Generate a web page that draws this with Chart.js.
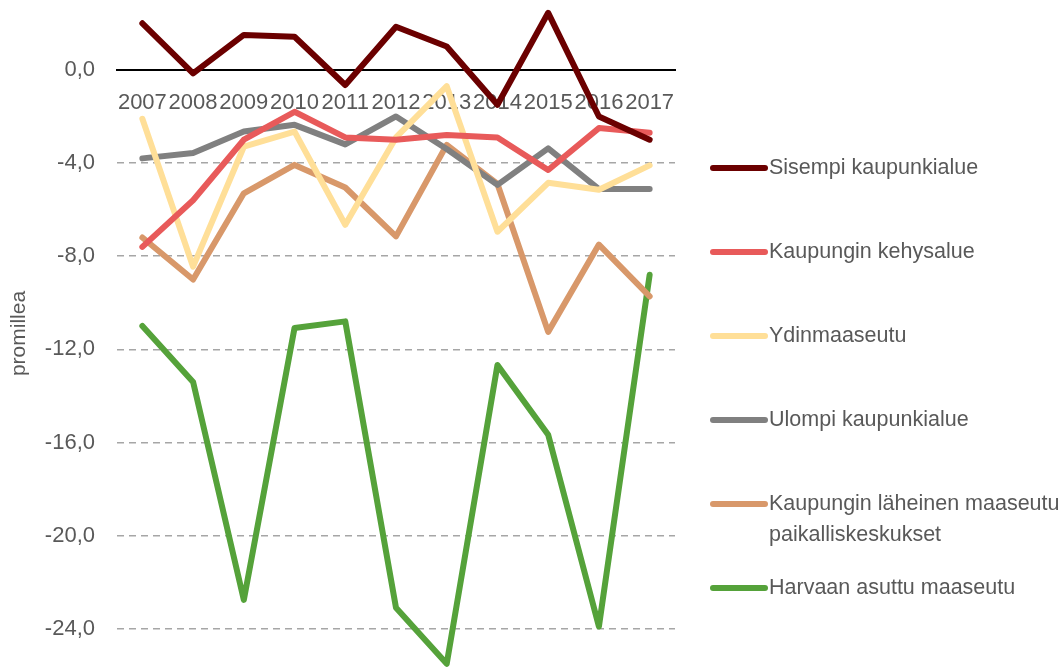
<!DOCTYPE html>
<html>
<head>
<meta charset="utf-8">
<script src="https://cdn.jsdelivr.net/npm/chart.js@4"></script>
<style>
  html, body { margin: 0; padding: 0; background: #fff; }
  #wrap { width: 1059px; height: 667px; overflow: hidden; }
</style>
</head>
<body>
<div id="wrap"><canvas id="lineChart" width="1059" height="667"></canvas></div>
<script>
// data (promillea)
var years = ['2007', '2008', '2009', '2010', '2011', '2012', '2013', '2014', '2015', '2016', '2017'];
var sisempi = [2.0, -0.15, 1.5, 1.42, -0.65, 1.85, 1.0, -1.5, 2.45, -2.0, -3.0];
var kehys = [-7.6, -5.6, -3.0, -1.8, -2.9, -3.0, -2.8, -2.9, -4.3, -2.5, -2.7];
var ydin = [-2.1, -8.45, -3.3, -2.65, -6.65, -2.9, -0.7, -6.95, -4.85, -5.15, -4.1];
var ulompi = [-3.8, -3.57, -2.65, -2.36, -3.2, -2.0, -3.4, -4.94, -3.37, -5.12, -5.12];
var laheinen = [-7.2, -9.0, -5.3, -4.08, -5.05, -7.15, -3.22, -4.9, -11.25, -7.5, -9.73];
var harvaan = [-11.0, -13.4, -22.76, -11.08, -10.8, -23.1, -25.5, -12.67, -15.67, -23.9, -8.8];
var yTicks = [-24, -20, -16, -12, -8, -4, 0];

var seriesNames = [
    'Sisempi kaupunkialue',
    'Kaupungin kehysalue',
    'Ydinmaaseutu',
    'Ulompi kaupunkialue',
    ['Kaupungin läheinen maaseutu ja', 'paikalliskeskukset'],
    'Harvaan asuttu maaseutu'
];
var seriesData = [sisempi, kehys, ydin, ulompi, laheinen, harvaan];
var seriesColors = ['#6B0000', '#E85A5A', '#FFDF98', '#808080', '#D8986A', '#55A23A'];

var textColor = '#595959';
var fontFamily = '"Liberation Sans", Arial, sans-serif';

// legend on the right, drawn by hand
const sideLegend = {
    id: 'sideLegend',
    afterDraw(chart) {
        const ctx = chart.ctx;
        ctx.save();
        ctx.font = '21.5px ' + fontFamily;
        ctx.textBaseline = 'middle';
        ctx.lineCap = 'round';
        var top = 168, step = 84;
        chart.data.datasets.forEach(function(ds, i) {
            var y = top + i * step;
            ctx.strokeStyle = ds.borderColor;
            ctx.lineWidth = 6;
            ctx.beginPath();
            ctx.moveTo(713, y);
            ctx.lineTo(765, y);
            ctx.stroke();
            ctx.fillStyle = textColor;
            var lines = Array.isArray(ds.label) ? ds.label : [ds.label];
            lines.forEach(function(t, j) {
                ctx.fillText(t, 769, y + j * 31);
            });
        });
        ctx.restore();
    }
};

var ctx = document.getElementById('lineChart').getContext('2d');
var lineChart = new Chart(ctx, {
    type: 'line',
    data: {
        labels: years,
        datasets: seriesData.map(function(d, i) {
            return {
                label: seriesNames[i],
                data: d,
                borderColor: seriesColors[i],
                backgroundColor: seriesColors[i],
                borderWidth: 6,
                borderCapStyle: 'round',
                borderJoinStyle: 'round',
                pointRadius: 0,
                tension: 0,
                fill: false
            };
        })
    },
    options: {
        responsive: false,
        animation: false,
        layout: { padding: { top: 0, right: 384, bottom: 0, left: 0 } },
        plugins: {
            legend: { display: false },
            tooltip: { enabled: false }
        },
        scales: {
            x: {
                position: { y: 0 },
                offset: true,
                afterFit: function(scale) {
                    scale.height = 0;
                    scale.paddingLeft = 0;
                    scale.paddingRight = 0;
                },
                grid: { display: false, drawTicks: false },
                border: { display: true, color: '#000', width: 2 },
                ticks: {
                    autoSkip: false,
                    maxRotation: 0,
                    padding: 20,
                    color: textColor,
                    font: { family: fontFamily, size: 22 }
                }
            },
            y: {
                min: -25.64,
                max: 3.0,
                afterBuildTicks: function(scale) {
                    scale.ticks = yTicks.map(function(v) { return { value: v }; });
                },
                afterFit: function(scale) {
                    scale.width = 117;
                    scale.paddingTop = 0;
                    scale.paddingBottom = 0;
                },
                grid: {
                    drawTicks: false,
                    lineWidth: 1.5,
                    color: function(c) { return c.tick && c.tick.value === 0 ? 'rgba(0,0,0,0)' : '#A6A6A6'; }
                },
                border: { display: false, dash: [7, 5] },
                ticks: {
                    padding: 22,
                    color: textColor,
                    font: { family: fontFamily, size: 22 },
                    callback: function(v) { return v.toFixed(1).replace('.', ','); }
                },
                title: {
                    display: true,
                    text: 'promillea',
                    color: textColor,
                    font: { family: fontFamily, size: 21 },
                    padding: { top: 7, bottom: 0 }
                }
            }
        }
    },
    plugins: [sideLegend]
});
</script>
</body>
</html>
